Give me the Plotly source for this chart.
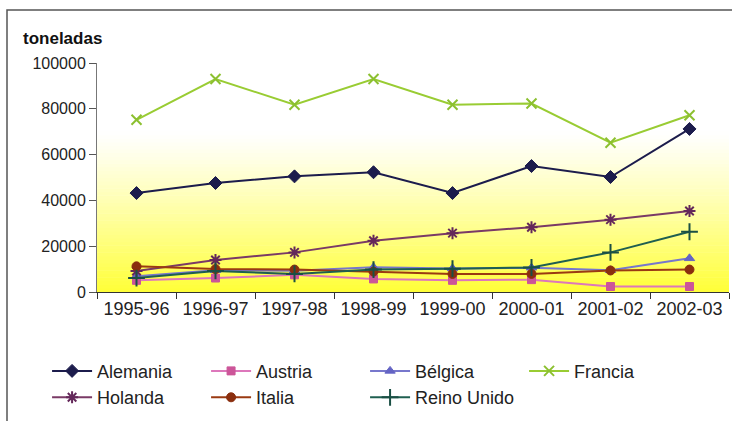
import plotly.graph_objects as go

categories = ["1995-96", "1996-97", "1997-98", "1998-99", "1999-00", "2000-01", "2001-02", "2002-03"]
alemania = [43200, 47600, 50500, 52300, 43200, 55000, 50200, 71200]
austria = [5100, 6100, 7500, 5700, 5100, 5400, 2400, 2400]
belgica = [6900, 9500, 9300, 10800, 10300, 10600, 9500, 14700]
francia = [75200, 93000, 81800, 93000, 81800, 82300, 65200, 77200]
holanda = [9200, 14000, 17300, 22400, 25700, 28300, 31600, 35400]
italia = [11200, 10000, 9800, 8900, 7900, 7900, 9400, 9800]
reino_unido = [6100, 9200, 7900, 9800, 10200, 10700, 17300, 26300]

series = [
    ("Alemania", alemania, "#1c1c4c", "#1c1c4c", "diamond", 10),
    ("Austria", austria, "#dd77bb", "#cc5599", "square", 8),
    ("Bélgica", belgica, "#7777cc", "#6464c4", "triangle-up", 9),
    ("Francia", francia, "#99cc33", "#8cc030", "x-thin-open", 10),
    ("Holanda", holanda, "#7a3a66", "#64285a", "asterisk-open", 10),
    ("Italia", italia, "#9a3a12", "#8a2e0e", "circle", 9),
    ("Reino Unido", reino_unido, "#1f5f50", "#1a4f44", "cross-thin-open", 12),
]

fig = go.Figure()
for name, vals, lc, mc, sym, sz in series:
    open_sym = sym.endswith("open")
    fig.add_trace(go.Scatter(
        x=categories, y=vals, name=name, mode="lines+markers",
        line=dict(color=lc, width=2),
        marker=dict(symbol=sym, size=sz, color=mc,
                    line=dict(color=mc, width=2 if open_sym else 1)),
        cliponaxis=False,
    ))

# gradient background of the plot area (white to yellow)
shapes = []
n = 45
top = 0.70
for i in range(n):
    y0 = top * i / n
    y1 = top * (i + 1) / n
    t = 1 - (y0 + y1) / 2 / top  # 1 at bottom, 0 at top
    t = t ** 1.15
    b = int(round(255 - t * (255 - 55)))
    shapes.append(dict(type="rect", xref="x domain", yref="y domain",
                       x0=0, x1=1, y0=y0, y1=y1 + 0.002,
                       fillcolor=f"rgb(255,255,{b})", line=dict(width=0), layer="below"))
# outer frame
shapes.append(dict(type="rect", xref="paper", yref="paper",
                   x0=(7 - 97) / 632, x1=1.05, y0=-0.7, y1=(292 - 10) / 229,
                   line=dict(color="#555555", width=1.5), fillcolor="rgba(0,0,0,0)", layer="above"))

fig.update_layout(
    width=732, height=421,
    margin=dict(l=97, r=3, t=63, b=129, autoexpand=False),
    paper_bgcolor="white", plot_bgcolor="white",
    font=dict(family="Liberation Sans, Arial, sans-serif", color="#222222"),
    shapes=shapes,
    showlegend=True,
    legend=dict(orientation="h", x=-0.079, xanchor="left", y=-0.265, yanchor="top",
                entrywidth=104, entrywidthmode="pixels",
                font=dict(size=18, color="#222222"), itemwidth=40,
                bgcolor="rgba(0,0,0,0)", tracegroupgap=0),
    annotations=[dict(text="<b>toneladas</b>", xref="paper", yref="paper",
                      x=(21 - 97) / 632, y=(292 - 50) / 229, xanchor="left", yanchor="bottom",
                      showarrow=False, font=dict(size=17, color="#111111"))],
)
fig.update_xaxes(
    type="category", range=[-0.5, 7.5], tickson="boundaries",
    ticks="outside", ticklen=6, tickcolor="#333333",
    showline=True, linecolor="#333333", linewidth=1, showgrid=False,
    tickfont=dict(size=18, color="#222222"), automargin=False,
)
fig.update_yaxes(
    range=[0, 100000], tickvals=[0, 20000, 40000, 60000, 80000, 100000],
    tickformat="d", ticks="outside", ticklen=7, tickcolor="#555555",
    showline=True, linecolor="#777777", linewidth=1, showgrid=False, zeroline=False,
    tickfont=dict(size=16, color="#222222"), automargin=False,
)

fig.write_html("out.html", config={"displayModeBar": False},
               post_script="document.body.style.margin='0px';")
